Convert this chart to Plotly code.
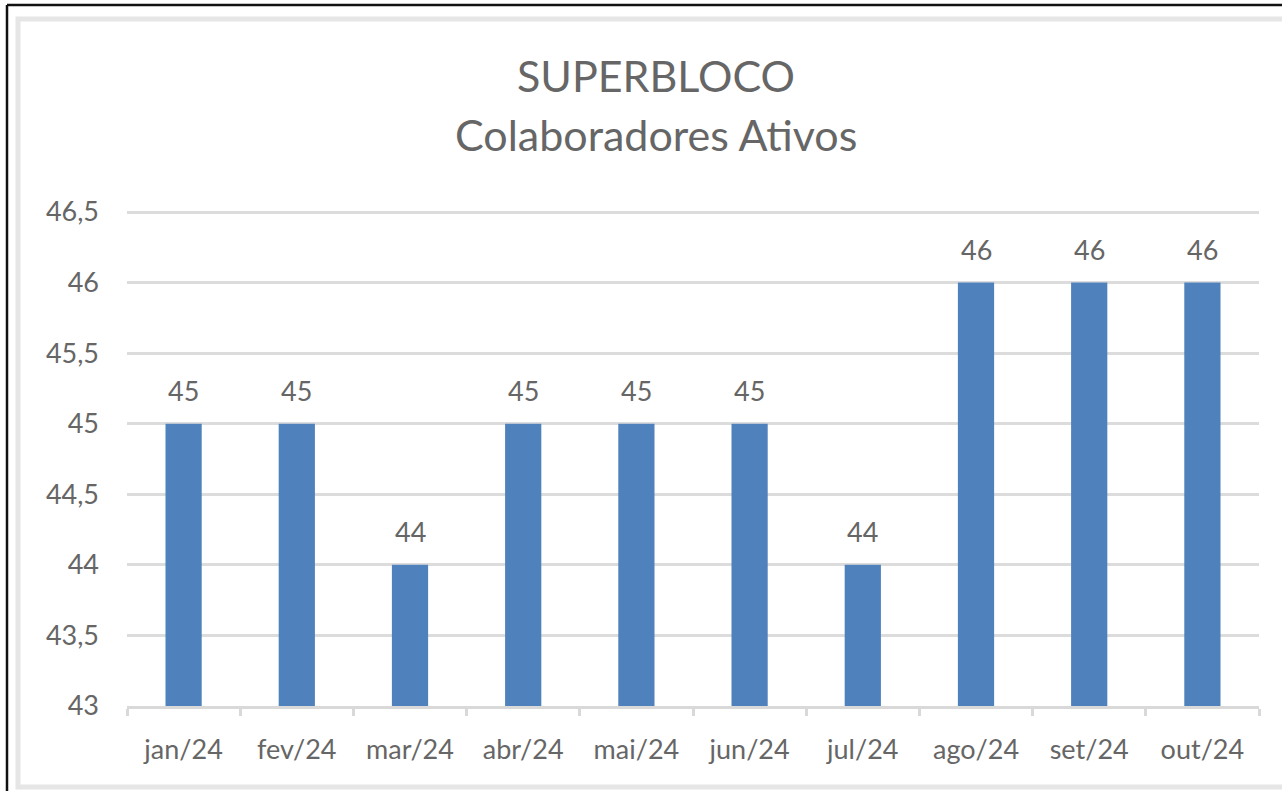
import plotly.graph_objects as go

months = ["jan/24", "fev/24", "mar/24", "abr/24", "mai/24", "jun/24",
          "jul/24", "ago/24", "set/24", "out/24"]
values = [45, 45, 44, 45, 45, 45, 44, 46, 46, 46]
title_line1 = "SUPERBLOCO"
title_line2 = "Colaboradores Ativos"

W, H = 1282, 791
PX_PER_UNIT = (706 - 212) / 3.5
L, R, T, B = 127, 1259, 206, 706
Y_MIN, Y_MAX = 43, 46.5 + 6 / PX_PER_UNIT

def px_x(p):
    return (p - L) / (R - L)

def px_y(p):
    return (B - p) / (B - T)

FONT = "Lato"
GRAY = "#666666"

fig = go.Figure()
fig.add_trace(go.Bar(x=months, y=values, marker_color="#4F81BD",
                     marker_line_width=0, hoverinfo="skip"))

annotations = []
for m, v in zip(months, values):
    annotations.append(dict(x=m, y=v, xref="x", yref="y", text=str(v),
                            showarrow=False, yanchor="middle", yshift=33,
                            font=dict(family=FONT, size=27, color=GRAY)))
annotations.append(dict(x=px_x(656), y=px_y(75), xref="paper", yref="paper",
                        text=title_line1, showarrow=False, xanchor="center",
                        yanchor="middle",
                        font=dict(family=FONT, size=43, color=GRAY)))
annotations.append(dict(x=px_x(656), y=px_y(134), xref="paper", yref="paper",
                        text=title_line2, showarrow=False, xanchor="center",
                        yanchor="middle",
                        font=dict(family=FONT, size=43, color=GRAY)))

shapes = [
    # outer black frame (top and left edges)
    dict(type="line", xref="paper", yref="paper", x0=px_x(7), x1=px_x(1300),
         y0=px_y(5), y1=px_y(5), line=dict(color="#111111", width=2.5)),
    dict(type="line", xref="paper", yref="paper", x0=px_x(7), x1=px_x(7),
         y0=px_y(5), y1=px_y(800), line=dict(color="#111111", width=2.5)),
    # light gray chart frame
    dict(type="rect", xref="paper", yref="paper", x0=px_x(18), x1=px_x(1300),
         y0=px_y(19), y1=px_y(787), line=dict(color="#E6E6E6", width=5),
         layer="below"),
]

fig.update_layout(
    width=W, height=H,
    margin=dict(l=L, r=W - R, t=T, b=H - B, pad=0),
    paper_bgcolor="white", plot_bgcolor="white",
    separators=",.",
    bargap=0.68,
    showlegend=False,
    annotations=annotations,
    shapes=shapes,
    font=dict(family=FONT, color=GRAY),
)
fig.update_yaxes(range=[Y_MIN, Y_MAX], dtick=0.5, tick0=43, showgrid=True,
                 gridcolor="#DCDCDC", gridwidth=2.5, zeroline=False,
                 showline=False, ticks="", ticklabelstandoff=27,
                 tickfont=dict(family=FONT, size=27, color=GRAY))
fig.update_xaxes(showgrid=False, showline=True, linecolor="#D9D9D9",
                 linewidth=2.5, ticks="outside", tickson="boundaries",
                 ticklen=7, tickcolor="#D9D9D9", tickwidth=2.5,
                 ticklabelstandoff=18,
                 tickfont=dict(family=FONT, size=27, color=GRAY))

fig.write_html("out.html", config={"displayModeBar": False},
               post_script="document.body.style.margin='0';")
